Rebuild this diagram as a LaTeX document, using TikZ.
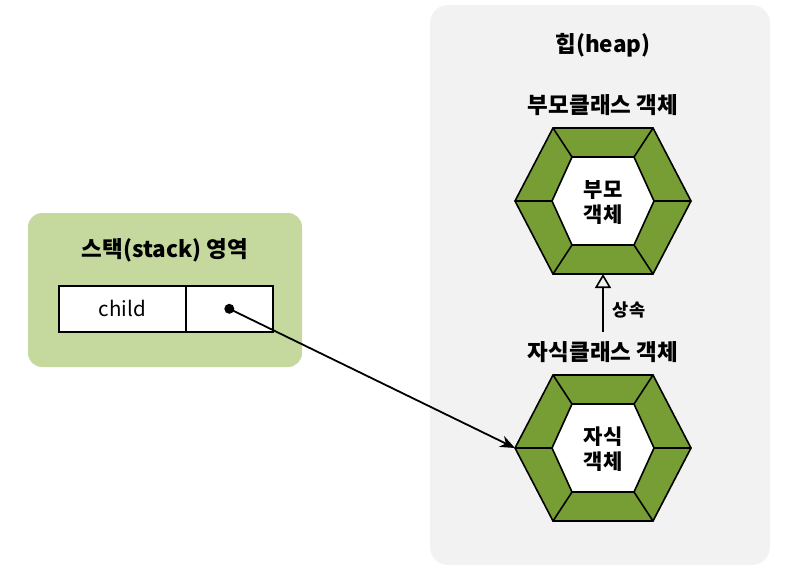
\documentclass[tikz,border=0pt]{standalone}
\usepackage{fontspec}
\newfontfamily\krfont{Noto Sans CJK KR}
\usetikzlibrary{arrows.meta}
\definecolor{heapgray}{RGB}{242,242,242}
\definecolor{stackgreen}{RGB}{197,217,159}
\definecolor{hexgreen}{RGB}{118,158,52}
\begin{document}
\begin{tikzpicture}[x=1pt,y=-1pt,
            area-title/.style={font=\krfont\bfseries\fontsize{22.5}{26}\selectfont},
            hex-label/.style={font=\krfont\bfseries\fontsize{21}{25}\selectfont,align=center},
            cell-node/.style={draw,line width=1.6pt,fill=white,minimum height=46pt,anchor=north west,inner sep=0pt},
        ]
            \useasboundingbox (0,0) rectangle (800,582);

            % areas
            \fill[heapgray,rounded corners=18pt] (430,5) rectangle (770,565);
            \fill[stackgreen,rounded corners=14pt] (28,213) rectangle (302,367);

            \node[area-title] (heap) at (603,45) {힙(heap)};
            \node[area-title] (stack) at (165,250) {스택(stack) 영역};
            \node[area-title] (parenttitle) at (603,105) {부모클래스 객체};
            \node[area-title] (childtitle) at (603,352) {자식클래스 객체};

            % stack variable
            \node[cell-node,minimum width=127pt,font=\krfont\fontsize{20.5}{22}\selectfont] (childname) at (58,285) {child};
            \node[cell-node,minimum width=87pt] (childref) at (185,285) {};
            \node[circle,fill=black,inner sep=0pt,minimum size=10pt] (refdot) at (childref.center) {};

            % objects
            \foreach \cy/\name in {201/parent,448/child} {
                \begin{scope}[shift={(603,\cy)},line width=1.6pt]
                    \filldraw[fill=hexgreen] (-88,0) -- (-50,-73) -- (50,-73) -- (88,0) -- (50,73) -- (-50,73) -- cycle;
                    \filldraw[fill=white] (-51,0) -- (-31,-44) -- (31,-44) -- (51,0) -- (31,44) -- (-31,44) -- cycle;
                    \foreach \ox/\oy/\ix/\iy in {-88/0/-51/0,-50/-73/-31/-44,50/-73/31/-44,88/0/51/0,50/73/31/44,-50/73/-31/44}
                        \draw (\ox,\oy) -- (\ix,\iy);
                    \coordinate (\name-W) at (-88,0);
                    \coordinate (\name-S) at (0,73);
                \end{scope}
            }
            \node[hex-label] (parentobj) at (603,202) {부모\\객체};
            \node[hex-label] (childobj) at (603,449) {자식\\객체};

            % inheritance
            \coordinate (inh) at (603,332);
            \draw[line width=1.6pt,-{Triangle[open,length=14pt,width=16pt]}] (inh) -- (parent-S);
            \node[font=\krfont\bfseries\fontsize{17.5}{20}\selectfont] (inhlabel) at (629,310) {상속};

            % reference
            \draw[line width=1.8pt,-{Stealth[length=15pt,width=12pt]}] (refdot.center) -- (child-W);
        \end{tikzpicture}
\end{document}
